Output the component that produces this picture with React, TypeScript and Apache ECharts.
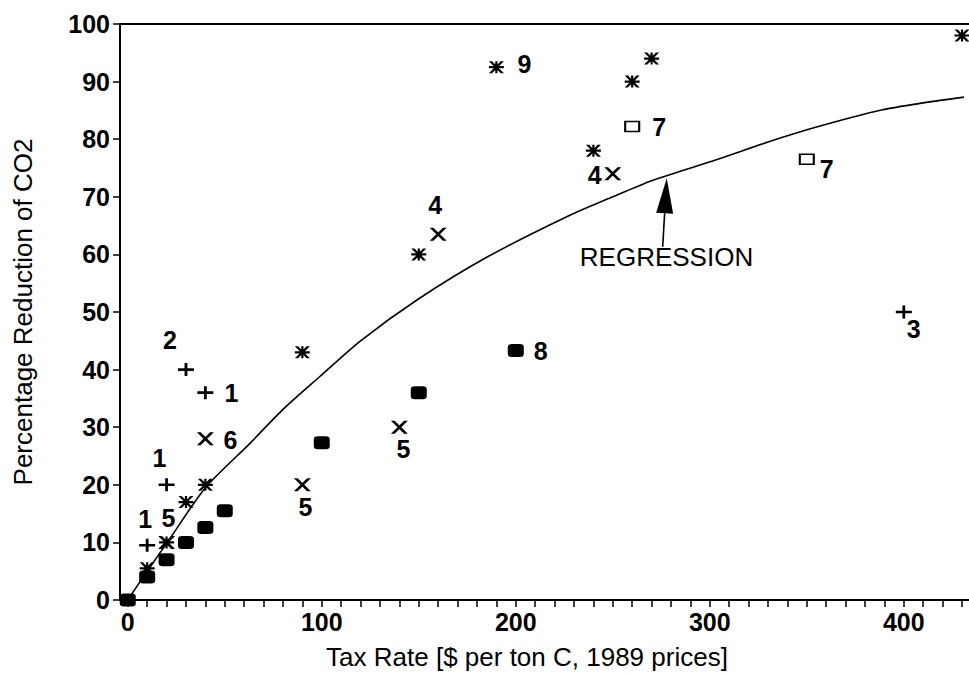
import React, { useEffect, useRef } from 'react';
import * as echarts from 'echarts';

// ---- data ----
const plusX = [10, 20, 30, 40, 400];
const plusY = [9.5, 20, 40, 36, 50];
const plusLabels = ['1', '1', '2', '1', '3'];

const crossX = [20, 40, 90, 140, 160, 250];
const crossY = [10, 28, 20, 30, 63.5, 74];
const crossLabels = ['5', '6', '5', '5', '4', '4'];

const starX = [10, 20, 30, 40, 90, 150, 190, 240, 260, 270, 430];
const starY = [5.5, 10, 17, 20, 43, 60, 92.5, 78, 90, 94, 98];
const starLabels = ['', '', '', '', '', '', '9', '', '', '', ''];

const filledX = [0, 10, 20, 30, 40, 50, 100, 150, 200];
const filledY = [0, 4, 7, 10, 12.6, 15.5, 27.3, 36, 43.3];
const filledLabels = ['', '', '', '', '', '', '', '', '8'];

const openX = [260, 350];
const openY = [82.2, 76.5];
const openLabels = ['7', '7'];

const regX = [0, 10, 20, 40, 63, 80, 99, 120, 150, 185, 226, 250, 270, 303, 330, 355, 389, 410, 431];
const regY = [0, 5, 9.8, 19.5, 27.2, 33.1, 38.8, 45, 52.3, 59.5, 66.5, 70, 72.8, 76.4, 79.5, 82.1, 85.1, 86.3, 87.3];

const xLabelValues = [0, 100, 200, 300, 400];
const xTickValues = [0, 10, 20, 30, 40, 50, 60, 70, 80, 90, 100, 110, 120, 130, 140, 150, 160, 170, 180, 190, 200, 210, 220, 230, 240, 250, 260, 270, 280, 290, 300, 310, 320, 330, 340, 350, 360, 370, 380, 390, 400, 410, 420, 430];

const regressionText = 'REGRESSION';
const regressionTextAt = [233, 59.6];
const arrowTail = [275.7, 61.3];
const arrowTip = [277.8, 73.2];

const xTitle = 'Tax Rate [$ per ton C, 1989 prices]';
const yTitle = 'Percentage Reduction of CO2';

// ---- styles (label offsets in px) ----
const plusOffsets: (number[] | null)[] = [[-2, -26], [-7, -27], [-16, -30], [26, 0], [10, 17]];
const crossOffsets: (number[] | null)[] = [[2, -24], [25, 1], [3, 22], [4, 22], [-3, -29], [-18, 1]];
const starOffsets: (number[] | null)[] = [null, null, null, null, null, null, [28, -3], null, null, null, null];
const filledOffsets: (number[] | null)[] = [null, null, null, null, null, null, null, null, [25, 0]];
const openOffsets: (number[] | null)[] = [[27, 0], [20, 10]];

const PLUS = 'path://M0,5.2 H6.6 V0 H9.4 V5.2 H16 V7.8 H9.4 V13 H6.6 V7.8 H0 Z';
const CROSS = 'path://M0,0 L3.8,0 L17,13 L13.2,13 Z M13.2,0 L17,0 L3.8,13 L0,13 Z';
const STAR = 'path://M0,0 L3.2,0 L15,12 L11.8,12 Z M11.8,0 L15,0 L3.2,12 L0,12 Z M0,4.9 H15 V7.1 H0 Z M6.4,0 H8.6 V12 H6.4 Z';

const FONT = '"Liberation Sans", Arial, Helvetica, sans-serif';

export default function App() {
  const ref = useRef<HTMLDivElement>(null);
  useEffect(() => {
    const chart = echarts.init(ref.current!, null, { renderer: 'svg' });
    const mk = (xs: number[], ys: number[], labels: string[], offs: (number[] | null)[]) =>
      xs.map((x, i) => {
        const item: any = { value: [x, ys[i]], name: labels[i] };
        if (offs[i]) item.label = { offset: offs[i] };
        return item;
      });
    const pointLabel = {
      show: true,
      position: 'inside',
      formatter: '{b}',
      color: '#000',
      fontSize: 25,
      fontWeight: 'bold',
      fontFamily: FONT,
    };
    const axisLineStyle = { color: '#000', width: 2 };
    const solid = { color: '#000', opacity: 1 };
    chart.setOption({
      animation: false,
      backgroundColor: '#fff',
      grid: { left: 120, right: 0, top: 24, bottom: 73, containLabel: false, outerBoundsMode: 'none' },
      xAxis: [
        {
          type: 'value',
          min: -4,
          max: 433.6,
          position: 'bottom',
          axisLine: { show: true, onZero: false, lineStyle: axisLineStyle },
          axisTick: { show: true, customValues: xTickValues, length: 7, lineStyle: { color: '#000', width: 1.5 } },
          axisLabel: {
            customValues: xLabelValues,
            color: '#000',
            fontSize: 25,
            fontWeight: 'bold',
            fontFamily: FONT,
            margin: 9,
          },
          splitLine: { show: false },
          name: xTitle,
          nameLocation: 'middle',
          nameGap: 44,
          nameTextStyle: { color: '#000', fontSize: 26, fontFamily: FONT, padding: [0, 35, 0, 0] },
        },
        {
          type: 'value',
          min: -4,
          max: 433.6,
          position: 'top',
          axisLine: { show: true, onZero: false, lineStyle: axisLineStyle },
          axisTick: { show: false },
          axisLabel: { show: false },
          splitLine: { show: false },
        },
      ],
      yAxis: {
        type: 'value',
        min: 0,
        max: 100,
        interval: 10,
        axisLine: { show: true, onZero: false, lineStyle: axisLineStyle },
        axisTick: { show: true, length: 7, lineStyle: { color: '#000', width: 1.5 } },
        axisLabel: { color: '#000', fontSize: 25, fontWeight: 'bold', fontFamily: FONT, margin: 10 },
        splitLine: { show: false },
        name: yTitle,
        nameLocation: 'middle',
        nameGap: 84,
        nameTextStyle: { color: '#000', fontSize: 26, fontFamily: FONT },
      },
      series: [
        {
          type: 'line',
          data: regX.map((x, i) => [x, regY[i]]),
          smooth: 0.25,
          showSymbol: false,
          lineStyle: { color: '#000', width: 1.6 },
          z: 1,
          silent: true,
        },
        {
          type: 'scatter',
          data: mk(filledX, filledY, filledLabels, filledOffsets),
          symbol: 'roundRect',
          symbolSize: [16, 13],
          itemStyle: solid,
          label: pointLabel,
          z: 3,
        },
        {
          type: 'scatter',
          data: mk(openX, openY, openLabels, openOffsets),
          symbol: 'rect',
          symbolSize: [14, 10],
          itemStyle: { color: '#fff', borderColor: '#000', borderWidth: 1.8, opacity: 1, borderRadius: 2 },
          label: pointLabel,
          z: 3,
        },
        {
          type: 'scatter',
          data: mk(plusX, plusY, plusLabels, plusOffsets),
          symbol: PLUS,
          symbolSize: [16, 13],
          itemStyle: solid,
          label: pointLabel,
          z: 3,
        },
        {
          type: 'scatter',
          data: mk(crossX, crossY, crossLabels, crossOffsets),
          symbol: CROSS,
          symbolSize: [17, 13],
          itemStyle: solid,
          label: pointLabel,
          z: 3,
        },
        {
          type: 'scatter',
          data: mk(starX, starY, starLabels, starOffsets),
          symbol: STAR,
          symbolSize: [15, 12],
          itemStyle: solid,
          label: pointLabel,
          z: 3,
        },
      ],
    });

    const p1 = chart.convertToPixel({ xAxisIndex: 0, yAxisIndex: 0 }, arrowTail) as number[];
    const p2 = chart.convertToPixel({ xAxisIndex: 0, yAxisIndex: 0 }, arrowTip) as number[];
    const pt = chart.convertToPixel({ xAxisIndex: 0, yAxisIndex: 0 }, regressionTextAt) as number[];
    const dx = p2[0] - p1[0];
    const dy = p2[1] - p1[1];
    const len = Math.sqrt(dx * dx + dy * dy);
    const ux = dx / len;
    const uy = dy / len;
    const headLen = 35;
    const halfW = 8.5;
    const bx = p2[0] - ux * headLen;
    const by = p2[1] - uy * headLen;
    const px = -uy;
    const py = ux;
    chart.setOption({
      graphic: [
        {
          type: 'line',
          shape: { x1: p1[0], y1: p1[1], x2: bx, y2: by },
          style: { stroke: '#000', lineWidth: 1.6 },
          z: 10,
        },
        {
          type: 'polygon',
          shape: {
            points: [
              [p2[0], p2[1]],
              [bx + px * halfW, by + py * halfW],
              [bx - px * halfW, by - py * halfW],
            ],
          },
          style: { fill: '#000' },
          z: 10,
        },
        {
          type: 'text',
          x: pt[0],
          y: pt[1],
          style: {
            text: regressionText,
            fill: '#000',
            font: `26px ${FONT}`,
            textAlign: 'left',
            textVerticalAlign: 'middle',
          },
          z: 10,
        },
      ],
    });

    return () => chart.dispose();
  }, []);
  return (
    <div
      ref={ref}
      style={{ position: 'fixed', left: 0, top: 0, width: 969, height: 673, background: '#fff' }}
    />
  );
}
